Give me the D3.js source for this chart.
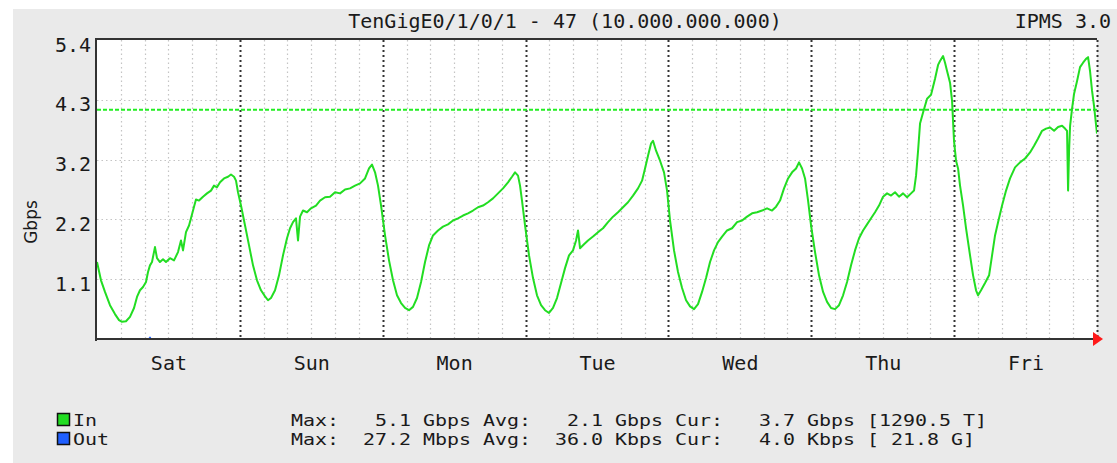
<!DOCTYPE html>
<html>
<head>
<meta charset="utf-8">
<script src="https://cdn.jsdelivr.net/npm/d3@7"></script>
<style>
  html, body { margin: 0; padding: 0; background: #ffffff; }
  svg { display: block; }
  .mono { font-family: "DejaVu Sans Mono", monospace; font-size: 20px; fill: #1a1a1a; }
  .leg { font-family: "DejaVu Sans Mono", monospace; font-size: 16px; fill: #1a1a1a; }
</style>
</head>
<body>
<svg id="chart" width="1117" height="463"></svg>
<script>
// ---------------- DATA ----------------
const titleText = "TenGigE0/1/0/1 - 47 (10.000.000.000)";
const versionText = "IPMS 3.0";
const yAxisLabel = "Gbps";
const yTickValues = [1.08, 2.16, 3.24, 4.32, 5.4];
const yTickLabels = ["1.1", "2.2", "3.2", "4.3", "5.4"];
const dayLabels = ["Sat", "Sun", "Mon", "Tue", "Wed", "Thu", "Fri"];
const percentileLine = 4.14; // Gbps
const seriesNames = ["In", "Out"];
const legendLines = [
  "Max:   5.1 Gbps Avg:   2.1 Gbps Cur:   3.7 Gbps [1290.5 T]",
  "Max:  27.2 Mbps Avg:  36.0 Kbps Cur:   4.0 Kbps [ 21.8 G]"
];

// In traffic (hours since Sat 00:00, Gbps)
const hoursIn = [
  0,0.67,1.34,2.18,3.02,3.70,4.20,4.87,5.54,6.22,6.72,7.22,7.73,8.23,8.57,8.90,9.24,9.74,10.08,10.58,
  11.09,11.59,12.26,12.94,13.61,14.11,14.45,14.95,15.46,15.79,16.30,16.63,17.14,17.81,18.48,19.15,19.66,20.16,20.67,21.34,
  22.01,22.51,23.02,23.35,23.69,24.19,24.87,25.54,26.21,26.88,27.55,28.23,28.73,29.23,29.91,30.58,31.25,31.92,32.43,32.93,
  33.43,33.77,34.11,34.61,35.28,35.95,36.79,37.47,38.31,39.15,39.99,40.83,41.67,42.51,43.35,44.19,45.03,45.70,46.20,46.71,
  47.21,47.72,48.39,49.06,49.73,50.40,51.08,51.75,52.42,53.09,53.76,54.44,55.11,55.78,56.45,57.29,58.13,58.97,59.81,60.65,
  61.49,62.33,63.17,64.01,64.85,65.69,66.53,67.37,68.21,69.05,69.72,70.23,70.73,71.07,71.40,71.91,72.58,73.25,73.92,74.60,
  75.27,75.94,76.61,77.28,77.96,78.63,79.30,79.97,80.48,80.81,81.15,81.82,82.49,83.33,84.17,85.01,85.85,86.69,87.53,88.37,
  89.21,90.05,90.89,91.57,92.07,92.57,93.08,93.41,93.92,94.59,95.26,95.77,96.27,96.94,97.61,98.29,98.96,99.63,100.30,100.97,
  101.65,102.32,102.99,103.66,104.33,105.01,105.85,106.69,107.53,108.37,109.21,110.05,110.89,111.73,112.57,113.41,114.08,114.75,115.42,116.10,
  116.77,117.44,117.94,118.45,118.95,119.46,119.96,120.63,121.30,121.98,122.65,123.32,123.99,124.66,125.34,126.01,126.68,127.35,128.02,128.70,
  129.37,130.04,130.71,131.38,132.06,132.73,133.40,134.07,134.74,135.42,136.09,136.76,137.26,137.60,137.94,138.27,138.78,139.45,140.12,140.79,
  141.30,141.63,142.14,142.47,142.81,143.31,143.65,143.98,144.32,144.66,144.99,145.50,146.00,146.67,147.18,147.68,148.02,148.52,149.19,149.87,
  150.37,150.87,151.38,152.05,152.72,153.39,154.23,155.07,155.91,156.75,157.43,158.10,158.77,159.44,160.12,160.79,161.46,162.13,162.63,162.97,
  163.14,163.31,163.48,163.81,164.15,164.65,165.15,165.66,166.16,166.50,166.83,167.17,167.50,168.00
];
const gbpsIn = [
  1.39,1.06,0.85,0.61,0.45,0.34,0.31,0.32,0.40,0.56,0.76,0.88,0.94,1.03,1.21,1.33,1.39,1.66,1.46,1.39,
  1.44,1.39,1.46,1.42,1.57,1.78,1.60,1.93,2.05,2.18,2.39,2.52,2.50,2.57,2.63,2.68,2.77,2.74,2.83,2.90,
  2.93,2.97,2.93,2.86,2.65,2.41,2.05,1.69,1.33,1.06,0.88,0.77,0.70,0.74,0.88,1.15,1.51,1.82,2.00,2.11,
  2.18,1.78,2.21,2.32,2.29,2.36,2.41,2.50,2.56,2.57,2.65,2.63,2.70,2.72,2.77,2.81,2.90,3.08,3.15,3.01,
  2.77,2.41,1.87,1.42,1.06,0.79,0.65,0.56,0.52,0.58,0.74,1.03,1.39,1.69,1.87,1.96,2.03,2.07,2.14,2.18,
  2.23,2.27,2.32,2.38,2.41,2.47,2.54,2.63,2.72,2.83,2.93,3.01,2.95,2.77,2.50,2.05,1.51,1.10,0.79,0.61,
  0.52,0.47,0.56,0.74,1.01,1.28,1.51,1.60,1.78,1.96,1.64,1.71,1.78,1.85,1.93,2.00,2.11,2.21,2.29,2.38,
  2.47,2.59,2.72,2.86,3.08,3.31,3.53,3.58,3.40,3.22,3.01,2.68,2.14,1.60,1.21,0.92,0.70,0.59,0.54,0.63,
  0.85,1.10,1.39,1.60,1.75,1.85,1.96,2.00,2.11,2.14,2.21,2.27,2.29,2.32,2.36,2.32,2.39,2.50,2.72,2.90,
  3.01,3.08,3.19,3.08,2.90,2.50,2.05,1.57,1.15,0.85,0.67,0.56,0.54,0.61,0.79,1.03,1.33,1.60,1.82,1.96,
  2.07,2.18,2.29,2.41,2.57,2.63,2.59,2.65,2.57,2.63,2.56,2.63,2.68,2.95,3.40,3.89,4.09,4.34,4.41,4.70,
  4.95,5.02,5.11,4.99,4.84,4.63,4.30,3.58,3.22,3.08,2.77,2.41,2.00,1.51,1.15,0.88,0.79,0.88,1.01,1.15,
  1.51,1.87,2.11,2.41,2.68,2.90,3.10,3.19,3.26,3.37,3.49,3.62,3.76,3.80,3.82,3.76,3.83,3.85,3.80,3.76,
  2.68,3.40,3.85,4.16,4.43,4.66,4.91,4.99,5.06,5.09,4.84,4.48,4.21,3.71
];

// Out traffic (hours, Gbps) - essentially zero
const hoursOut = [0, 8.6, 8.9, 9.2, 168];
const gbpsOut = [0, 0, 0.04, 0, 0];

// ---------------- CHART ----------------
const svg = d3.select("#chart");
const L = 97, R = 1097, T = 40, B = 339;

const x = d3.scaleLinear().domain([0, 168]).range([L, R]);
const y = d3.scaleLinear().domain([0, 5.4]).range([B, T]);

// panel background
svg.append("rect").attr("x", 13).attr("y", 9).attr("width", 1104).attr("height", 454).attr("fill", "#eaeaea");
// plot background
svg.append("rect").attr("x", L).attr("y", T).attr("width", R - L).attr("height", B - T).attr("fill", "#ffffff");

// minor vertical grid (every 4 hours)
const minorHours = d3.range(4, 168, 4).filter(h => h % 24 !== 0);
svg.append("g").selectAll("line").data(minorHours).join("line")
  .attr("x1", d => Math.round(x(d)) + 0.5).attr("x2", d => Math.round(x(d)) + 0.5)
  .attr("y1", T).attr("y2", B)
  .attr("stroke", "#c4c4c4").attr("stroke-width", 1.2).attr("stroke-dasharray", "1.5,3");

// horizontal grid
svg.append("g").selectAll("line").data(yTickValues.slice(0, -1)).join("line")
  .attr("x1", L).attr("x2", R)
  .attr("y1", d => Math.round(y(d)) + 0.5).attr("y2", d => Math.round(y(d)) + 0.5)
  .attr("stroke", "#c4c4c4").attr("stroke-width", 1.2).attr("stroke-dasharray", "1.5,3");

// day lines
const dayHours = d3.range(24, 169, 24);
svg.append("g").selectAll("line").data(dayHours).join("line")
  .attr("x1", d => Math.round(x(d)) + 0.5).attr("x2", d => Math.round(x(d)) + 0.5)
  .attr("y1", T).attr("y2", B)
  .attr("stroke", "#333").attr("stroke-width", 2).attr("stroke-dasharray", "2,3");

// percentile line
svg.append("line")
  .attr("x1", L).attr("x2", R)
  .attr("y1", y(percentileLine)).attr("y2", y(percentileLine))
  .attr("stroke", "#22ee22").attr("stroke-width", 2).attr("stroke-dasharray", "4,2");

// clip
svg.append("clipPath").attr("id", "plotclip").append("rect")
  .attr("x", L).attr("y", T - 2).attr("width", R - L).attr("height", B - T + 2);

const line = d3.line().x(d => x(d[0])).y(d => y(d[1]));

// Out series
svg.append("path")
  .datum(hoursOut.map((h, i) => [h, gbpsOut[i]]))
  .attr("d", line).attr("fill", "none")
  .attr("stroke", "#1f5fff").attr("stroke-width", 1)
  .attr("clip-path", "url(#plotclip)");

// In series
svg.append("path")
  .datum(hoursIn.map((h, i) => [h, gbpsIn[i]]))
  .attr("d", line).attr("fill", "none")
  .attr("stroke", "#22dd22").attr("stroke-width", 2).attr("stroke-linejoin", "round")
  .attr("clip-path", "url(#plotclip)");

// borders
svg.append("line").attr("x1", L - 1).attr("x2", R).attr("y1", T - 1).attr("y2", T - 1)
  .attr("stroke", "#333").attr("stroke-width", 2);
svg.append("line").attr("x1", L - 1).attr("x2", L - 1).attr("y1", T - 2).attr("y2", B + 2)
  .attr("stroke", "#333").attr("stroke-width", 2);
svg.append("line").attr("x1", L - 2).attr("x2", R).attr("y1", B).attr("y2", B)
  .attr("stroke", "#333").attr("stroke-width", 2);

// arrow
svg.append("path")
  .attr("d", d3.line()([[R - 4, B - 7], [R + 6, B], [R - 4, B + 7]]) + "Z")
  .attr("fill", "#ff1a1a");

// Y axis
const yAxis = d3.axisLeft(y).tickValues(yTickValues)
  .tickFormat((d, i) => yTickLabels[i]).tickSize(0).tickPadding(5);
const gy = svg.append("g").attr("transform", `translate(${L - 1},0)`).call(yAxis);
gy.select(".domain").remove();
gy.selectAll("text").attr("dy", "0.55em")
  .style("font-family", "DejaVu Sans Mono").style("font-size", "20px").attr("fill", "#1a1a1a");

// X axis (day labels at noon)
const xAxis = d3.axisBottom(x).tickValues(dayLabels.map((d, i) => 12 + 24 * i))
  .tickFormat((d, i) => dayLabels[i]).tickSize(0).tickPadding(0);
const gx = svg.append("g").attr("transform", `translate(0,${B})`).call(xAxis);
gx.select(".domain").remove();
gx.selectAll("text").attr("dy", null).attr("y", 31)
  .style("font-family", "DejaVu Sans Mono").style("font-size", "20px").attr("fill", "#1a1a1a");

// y axis label
svg.append("text")
  .attr("transform", "translate(37,222) rotate(-90)")
  .attr("text-anchor", "middle")
  .style("font-family", "DejaVu Sans").style("font-size", "17px").attr("fill", "#1a1a1a")
  .text(yAxisLabel);

// title
svg.append("text").attr("class", "mono").attr("x", 565).attr("y", 28)
  .attr("text-anchor", "middle").text(titleText);
svg.append("text").attr("class", "mono").attr("x", 1111).attr("y", 28)
  .attr("text-anchor", "end").text(versionText);

// legend
const legendColors = ["#22dd22", "#1f5fff"];
const charW = 12;
seriesNames.forEach((name, i) => {
  const yy = 413 + i * 19;
  svg.append("rect").attr("x", 57.5).attr("y", yy + 0.5).attr("width", 12).attr("height", 12)
    .attr("fill", legendColors[i]).attr("stroke", "#111").attr("stroke-width", 1.5);
  svg.append("text").attr("class", "leg").attr("x", 73).attr("y", yy + 13)
    .attr("textLength", name.length * charW).attr("lengthAdjust", "spacingAndGlyphs").text(name);
  svg.append("text").attr("class", "leg").attr("x", 291).attr("y", yy + 13)
    .attr("xml:space", "preserve").style("white-space", "pre")
    .attr("textLength", legendLines[i].length * charW).attr("lengthAdjust", "spacingAndGlyphs")
    .text(legendLines[i]);
});
</script>
</body>
</html>
